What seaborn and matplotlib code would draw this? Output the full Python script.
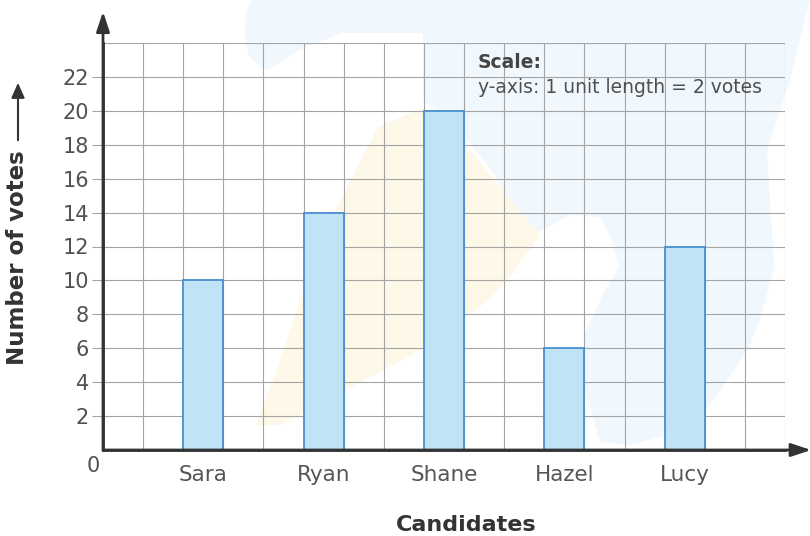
import pandas as pd
import matplotlib.pyplot as plt
import seaborn as sns
from matplotlib.patches import Polygon, FancyArrowPatch

# Data
candidates = ["Sara", "Ryan", "Shane", "Hazel", "Lucy"]
votes = [10, 14, 20, 6, 12]
y_ticks = [2, 4, 6, 8, 10, 12, 14, 16, 18, 20, 22]

# bars sit on the grid, one every third unit
positions = [2.5 + 3 * i for i in range(len(candidates))]
df = pd.DataFrame({"pos": positions, "votes": votes, "name": candidates})

sns.set_style("white")
plt.rcParams["font.family"] = ["DejaVu Sans"]

fig = plt.figure(figsize=(8.1, 5.36), dpi=100)

# faint background shapes (figure pixel coords, y from top)
def px(points):
    return [(x / 810, 1 - y / 536) for x, y in points]

blue_shape = [(252, 0), (810, 0), (790, 80), (767, 150), (774, 267), (760, 320),
              (748, 350), (710, 405), (674, 433), (630, 445), (600, 442),
              (585, 390), (585, 333), (605, 290), (619, 267), (610, 235),
              (600, 217), (570, 215), (537, 233), (510, 200), (489, 167),
              (455, 125), (423, 100), (423, 33), (341, 33), (300, 50), (267, 70),
              (250, 58), (245, 40), (246, 12)]
yellow_shape = [(256, 425), (280, 360), (320, 240), (378, 127), (423, 108),
                (470, 150), (540, 235), (515, 270), (489, 300), (420, 350),
                (341, 393), (280, 425)]
fig.patches.append(Polygon(px(blue_shape), closed=True, transform=fig.transFigure,
                           facecolor="#f0f7fd", edgecolor="none", zorder=-2))
fig.patches.append(Polygon(px(yellow_shape), closed=True, transform=fig.transFigure,
                           facecolor="#fef8e8", edgecolor="none", zorder=-1))

ax = fig.add_axes([103 / 810, 1 - 450 / 536, 682 / 810, 407 / 536])
ax.patch.set_alpha(0)

sns.barplot(data=df, x="pos", y="votes", native_scale=True, width=1 / 3,
            color="#c0e4f6", edgecolor="#4a8ed0", linewidth=1.3,
            saturation=1, ax=ax, zorder=3)

ax.set_xlim(0, 17)
ax.set_ylim(0, 24)

# grid lines
for gx in range(1, 18):
    ax.axvline(gx, color="#a4a4a4", lw=0.8, zorder=1)
for gy in range(2, 25, 2):
    ax.axhline(gy, color="#a4a4a4", lw=0.8, zorder=1)

for s in ["top", "right"]:
    ax.spines[s].set_visible(False)
for s in ["left", "bottom"]:
    ax.spines[s].set_color("#333333")
    ax.spines[s].set_linewidth(2)
    ax.spines[s].set_zorder(4)

ax.set_yticks(y_ticks)
ax.set_yticklabels([str(t) for t in y_ticks], fontsize=15, color="#505050")
ax.tick_params(axis="y", length=8, width=0.8, color="#a4a4a4", pad=2, left=True)
ax.set_xticks(positions)
ax.set_xticklabels(candidates, fontsize=15.5, color="#555555")
ax.tick_params(axis="x", length=0, pad=11)
ax.set_xlabel("")
ax.set_ylabel("")

# axis arrows
ax.annotate("", xy=(0, 25.85), xytext=(0, 0), annotation_clip=False,
            arrowprops=dict(arrowstyle="-|>,head_length=1.2,head_width=0.4",
                            color="#333333", lw=2, shrinkA=0, shrinkB=0))
ax.annotate("", xy=(17.65, 0), xytext=(0, 0), annotation_clip=False,
            arrowprops=dict(arrowstyle="-|>,head_length=1.2,head_width=0.4",
                            color="#333333", lw=2, shrinkA=0, shrinkB=0))

ax.text(-0.25, -0.95, "0", fontsize=15, color="#505050", ha="center", va="center",
        clip_on=False)

# scale note
ax.text(9.35, 22.85, "Scale:", fontsize=13.5, fontweight="bold", color="#444444",
        ha="left", va="center")
ax.text(9.35, 21.35, "y-axis: 1 unit length = 2 votes", fontsize=13.5,
        color="#4f4f4f", ha="left", va="center")

# axis titles
fig.text(466 / 810, 1 - 525 / 536, "Candidates", fontsize=16, fontweight="bold",
         color="#333333", ha="center", va="center")
fig.text(18 / 810, 1 - 258 / 536, "Number of votes", fontsize=16.5, fontweight="bold",
         color="#333333", ha="center", va="center", rotation=90)
fig.add_artist(FancyArrowPatch(
    (18 / 810, 1 - 143 / 536), (18 / 810, 1 - 80 / 536), transform=fig.transFigure,
    arrowstyle="-|>,head_length=9,head_width=4", color="#333333", lw=1.5))

plt.savefig("out.png", dpi=100)
